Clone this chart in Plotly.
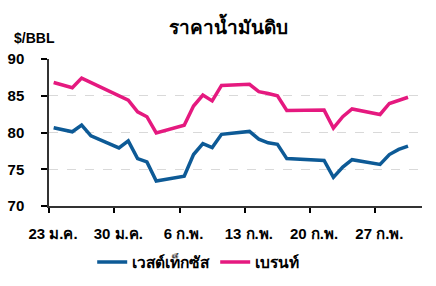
import pandas as pd
import plotly.graph_objects as go

dates = ["2023-01-23", "2023-01-24", "2023-01-25", "2023-01-26", "2023-01-27",
         "2023-01-30", "2023-01-31", "2023-02-01", "2023-02-02", "2023-02-03",
         "2023-02-06", "2023-02-07", "2023-02-08", "2023-02-09", "2023-02-10",
         "2023-02-13", "2023-02-14", "2023-02-15", "2023-02-16", "2023-02-17",
         "2023-02-21", "2023-02-22", "2023-02-23", "2023-02-24",
         "2023-02-27", "2023-02-28", "2023-03-01", "2023-03-02"]
wti = [80.65, 80.4, 80.1, 81.0, 79.55, 77.9, 78.85, 76.45, 76.0, 73.4,
       74.05, 77.0, 78.5, 77.95, 79.75, 80.15, 79.1, 78.6, 78.4, 76.45,
       76.2, 73.9, 75.3, 76.3, 75.65, 77.0, 77.7, 78.15]
brent = [86.8, 86.45, 86.1, 87.4, 86.8, 85.0, 84.4, 82.8, 82.15, 79.95,
         81.0, 83.6, 85.1, 84.3, 86.4, 86.55, 85.55, 85.3, 85.0, 83.0,
         83.05, 80.6, 82.15, 83.2, 82.45, 83.95, 84.4, 84.8]
series_names = ["เวสต์เท็กซัส", "เบรนท์"]
tick_dates = ["2023-01-23", "2023-01-30", "2023-02-06", "2023-02-13", "2023-02-20", "2023-02-27"]
tick_text = ["23 ม.ค.", "30 ม.ค.", "6 ก.พ.", "13 ก.พ.", "20 ก.พ.", "27 ก.พ."]
y_ticks = [70, 75, 80, 85, 90]

# points sit in the middle of each day slot (between tick marks)
x = pd.to_datetime(dates) + pd.Timedelta(hours=12)

FONT = "Liberation Sans, Arial, Noto Sans, sans-serif"

fig = go.Figure()
fig.add_trace(go.Scatter(x=x, y=wti, mode="lines", name="<b>%s</b>" % series_names[0],
                         line=dict(color="#0D5A96", width=3.5)))
fig.add_trace(go.Scatter(x=x, y=brent, mode="lines", name="<b>%s</b>" % series_names[1],
                         line=dict(color="#E5197F", width=3.5)))

fig.update_layout(
    width=436, height=286,
    margin=dict(l=49, r=14, t=59, b=80, autoexpand=False),
    paper_bgcolor="white", plot_bgcolor="white",
    font=dict(family=FONT, color="black", size=14),
    title=dict(text="<b>ราคาน้ำมันดิบ</b>", x=0.523, xanchor="center",
               y=0.905, yanchor="middle", font=dict(size=19, color="black")),
    showlegend=True,
    legend=dict(orientation="h", x=0.40, xanchor="center", y=-0.384, yanchor="middle",
                font=dict(size=15.5), itemwidth=30, tracegroupgap=0),
)
fig.update_xaxes(
    type="date", range=["2023-01-23", "2023-03-04"],
    tickmode="array", tickvals=tick_dates, ticktext=["<b>%s</b>" % t for t in tick_text],
    ticks="outside", ticklen=5, tickcolor="black", tickwidth=1.5,
    showline=True, linecolor="#333333", linewidth=1.5,
    showgrid=False, zeroline=False, ticklabelshift=4, ticklabelstandoff=8,
    tickfont=dict(size=15),
)
fig.update_yaxes(
    range=[70, 90], tickmode="array", tickvals=y_ticks,
    ticktext=["<b>%d</b>" % v for v in y_ticks],
    ticks="outside", ticklen=6, tickcolor="black", tickwidth=1.5,
    showline=True, linecolor="#333333", linewidth=1.5,
    showgrid=True, gridcolor="#d9d9d9", griddash="dash", gridwidth=1,
    zeroline=False, ticklabelstandoff=14, tickfont=dict(size=15),
)
fig.add_annotation(text="<b>$/BBL</b>", xref="paper", yref="paper",
                   x=-0.1, y=1.145, xanchor="left", yanchor="middle",
                   showarrow=False, font=dict(size=14, color="black"))

fig.write_html("out.html")
